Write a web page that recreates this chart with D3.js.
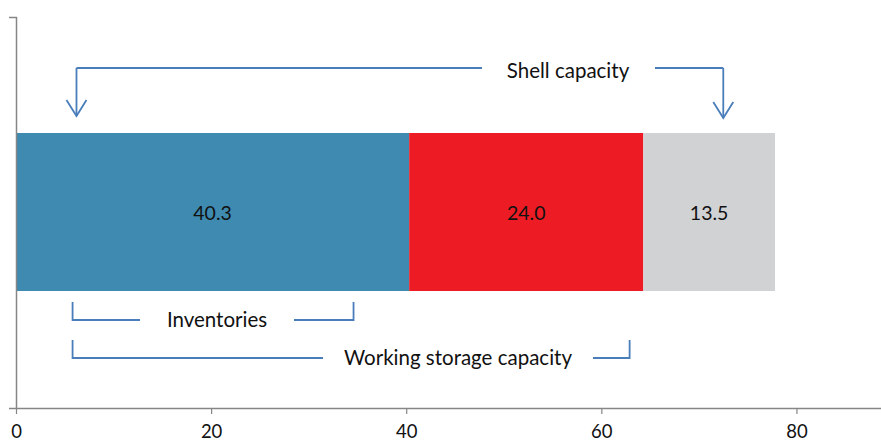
<!DOCTYPE html>
<html>
<head>
<meta charset="utf-8">
<script src="https://cdn.jsdelivr.net/npm/d3@7"></script>
<style>
  html, body { margin: 0; padding: 0; background: #fff; }
  svg { display: block; }
  text { font-family: Lato, "Open Sans", sans-serif; fill: #111; }
</style>
</head>
<body>
<svg id="chart" width="881" height="443"></svg>
<script>
// Storage capacity breakdown
const segments = ["Inventories", "Working capacity remaining", "Shell-only capacity"];
const values = [40.3, 24.0, 13.5];
const colors = ["#3e8ab0", "#ed1c24", "#d1d2d4"];
const xTicks = [0, 20, 40, 60, 80];

// Annotation brackets, in data units along the x axis
const shellSpan = [6.2, 72.5];
const inventorySpan = [5.8, 34.6];
const workingSpan = [5.8, 62.9];

const svg = d3.select("#chart");
const x = d3.scaleLinear().domain([0, 90]).range([16, 894]);
const y = d3.scaleBand().domain(["row"]).range([17, 408]).paddingInner(0).paddingOuter(0);

// stacked offsets
let acc = 0;
const stack = values.map((v, i) => { const s = { start: acc, value: v, color: colors[i], name: segments[i] }; acc += v; return s; });

const barTop = 133, barBottom = 291;

svg.selectAll("rect.seg").data(stack).join("rect")
  .attr("class", "seg")
  .attr("x", d => x(d.start))
  .attr("width", d => x(d.start + d.value) - x(d.start))
  .attr("y", barTop)
  .attr("height", barBottom - barTop)
  .attr("fill", d => d.color);

svg.selectAll("text.val").data(stack).join("text")
  .attr("class", "val")
  .attr("x", d => x(d.start + d.value / 2))
  .attr("y", (barTop + barBottom) / 2)
  .attr("text-anchor", "middle")
  .attr("dominant-baseline", "central")
  .style("font-size", "19.5px")
  .text(d => d.value.toFixed(1));

// x axis
const axisColor = "#868686";
const xAxis = svg.append("g").attr("transform", "translate(0,408)")
  .call(d3.axisBottom(x).tickValues(xTicks).tickSize(6).tickSizeOuter(0).tickFormat(d3.format("d")));
xAxis.select(".domain").attr("stroke", axisColor).attr("stroke-width", 1.5);
xAxis.selectAll(".tick line").attr("stroke", axisColor).attr("stroke-width", 1.2);
xAxis.selectAll(".tick text")
  .attr("y", 16)
  .attr("dy", 0)
  .attr("dominant-baseline", "hanging")
  .style("font-size", "18.5px")
  .style("font-family", "Lato, 'Open Sans', sans-serif")
  .attr("fill", "#111");

// y axis (single category, boundary ticks)
const yAxis = svg.append("g").attr("transform", "translate(16,0)")
  .call(d3.axisLeft(y).tickValues([]).tickSizeOuter(7));
yAxis.select(".domain").attr("stroke", axisColor).attr("stroke-width", 1.5);

// annotations
const blue = "#4a7ebb";
const ann = svg.append("g").attr("fill", "none").attr("stroke", blue).attr("stroke-width", 1.8);

function arrowDown(g, px, y0, y1) {
  g.append("path").attr("d", `M${px},${y0}V${y1}`);
  g.append("path").attr("d", `M${px - 10},${y1 - 16}L${px},${y1}L${px + 10},${y1 - 16}`);
}

// Shell capacity
const sL = x(shellSpan[0]), sR = x(shellSpan[1]);
ann.append("path").attr("d", `M${sL},68H482`);
ann.append("path").attr("d", `M655,68H${sR}`);
arrowDown(ann, sL, 68, 116);
arrowDown(ann, sR, 68, 118);
svg.append("text").attr("x", 568).attr("y", 70)
  .attr("text-anchor", "middle").attr("dominant-baseline", "central")
  .style("font-size", "20.5px").text("Shell capacity");

// Inventories bracket
const iL = x(inventorySpan[0]), iR = x(inventorySpan[1]);
ann.append("path").attr("d", `M${iL},302V320H140`);
ann.append("path").attr("d", `M294,320H${iR}V302`);
svg.append("text").attr("x", 217).attr("y", 319)
  .attr("text-anchor", "middle").attr("dominant-baseline", "central")
  .style("font-size", "20.5px").text("Inventories");

// Working storage capacity bracket
const wL = x(workingSpan[0]), wR = x(workingSpan[1]);
ann.append("path").attr("d", `M${wL},340V358H323`);
ann.append("path").attr("d", `M593,358H${wR}V340`);
svg.append("text").attr("x", 458).attr("y", 357)
  .attr("text-anchor", "middle").attr("dominant-baseline", "central")
  .style("font-size", "20.5px").text("Working storage capacity");
</script>
</body>
</html>
